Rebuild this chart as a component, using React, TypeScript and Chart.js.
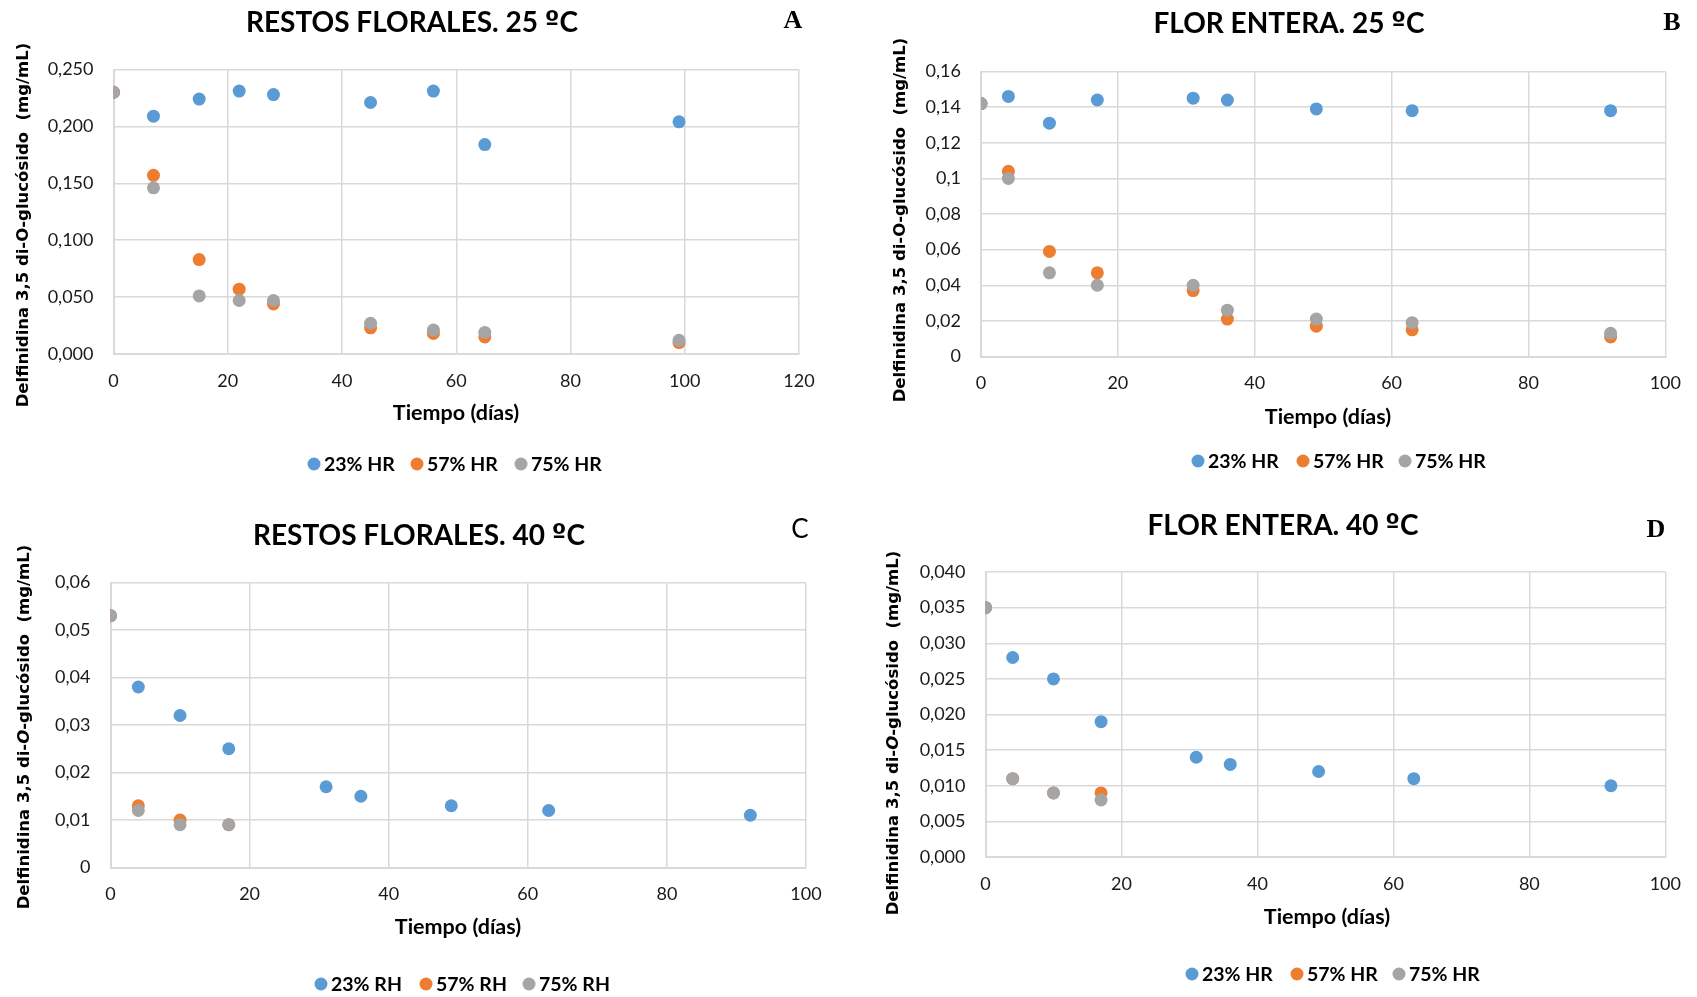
import React, { useEffect, useRef } from "react";
import { Chart, registerables } from "chart.js";

Chart.register(...registerables);

// ---------- DATA ----------
const seriesColors = ["#5B9BD5", "#ED7D31", "#A5A5A5"];
const legendHR = ["23% HR", "57% HR", "75% HR"];
const legendRH = ["23% RH", "57% RH", "75% RH"];

// A: Restos florales 25 ºC
const daysA = [0, 7, 15, 22, 28, 45, 56, 65, 99];
const a23 = [0.23, 0.209, 0.224, 0.231, 0.228, 0.221, 0.231, 0.184, 0.204];
const a57 = [0.23, 0.157, 0.083, 0.057, 0.044, 0.023, 0.018, 0.015, 0.01];
const a75 = [0.23, 0.146, 0.051, 0.047, 0.047, 0.027, 0.021, 0.019, 0.012];
const xTicksA = [0, 20, 40, 60, 80, 100, 120];
const yTicksA = [0, 0.05, 0.1, 0.15, 0.2, 0.25];
const yLabelsA = ["0,000", "0,050", "0,100", "0,150", "0,200", "0,250"];

// B: Flor entera 25 ºC
const daysB = [0, 4, 10, 17, 31, 36, 49, 63, 92];
const b23 = [0.142, 0.146, 0.131, 0.144, 0.145, 0.144, 0.139, 0.138, 0.138];
const b57 = [0.142, 0.104, 0.059, 0.047, 0.037, 0.021, 0.017, 0.015, 0.011];
const b75 = [0.142, 0.1, 0.047, 0.04, 0.04, 0.026, 0.021, 0.019, 0.013];
const xTicksB = [0, 20, 40, 60, 80, 100];
const yTicksB = [0, 0.02, 0.04, 0.06, 0.08, 0.1, 0.12, 0.14, 0.16];
const yLabelsB = ["0", "0,02", "0,04", "0,06", "0,08", "0,1", "0,12", "0,14", "0,16"];

// C: Restos florales 40 ºC
const daysC = [0, 4, 10, 17, 31, 36, 49, 63, 92];
const daysCShort = [0, 4, 10, 17];
const c23 = [0.053, 0.038, 0.032, 0.025, 0.017, 0.015, 0.013, 0.012, 0.011];
const c57 = [0.053, 0.013, 0.01, 0.009];
const c75 = [0.053, 0.012, 0.009, 0.009];
const xTicksC = [0, 20, 40, 60, 80, 100];
const yTicksC = [0, 0.01, 0.02, 0.03, 0.04, 0.05, 0.06];
const yLabelsC = ["0", "0,01", "0,02", "0,03", "0,04", "0,05", "0,06"];

// D: Flor entera 40 ºC
const daysD = [0, 4, 10, 17, 31, 36, 49, 63, 92];
const daysDShort = [0, 4, 10, 17];
const d23 = [0.035, 0.028, 0.025, 0.019, 0.014, 0.013, 0.012, 0.011, 0.01];
const d57 = [0.035, 0.011, 0.009, 0.009];
const d75 = [0.035, 0.011, 0.009, 0.008];
const xTicksD = [0, 20, 40, 60, 80, 100];
const yTicksD = [0, 0.005, 0.01, 0.015, 0.02, 0.025, 0.03, 0.035, 0.04];
const yLabelsD = ["0,000", "0,005", "0,010", "0,015", "0,020", "0,025", "0,030", "0,035", "0,040"];

// ---------- LAYOUT / STYLE ----------
const SANS = "Lato, 'Open Sans', sans-serif";
const GRID = "#D9D9D9";

type Panel = {
  id: string;
  box: { left: number; top: number; width: number; height: number };
  plot: { left: number; top: number; right: number; bottom: number };
  series: { x: number[]; y: number[] }[];
  xTicks: number[];
  yTicks: number[];
  yLabels: string[];
  title: string;
  titlePos: [number, number];
  letter: string;
  letterFont: string;
  letterPos: [number, number];
  yTitlePos: [number, number];
  italicO: boolean;
  xTitlePos: [number, number];
  legend: string[];
  legendY: number;
  legendXs: number[];
};

const serifLetter = "bold 26px 'Liberation Serif', 'DejaVu Serif', serif";

const panels: Panel[] = [
  {
    id: "A",
    box: { left: 0, top: 0, width: 848, height: 498 },
    plot: { left: 113.5, top: 69.5, right: 799, bottom: 354 },
    series: [
      { x: daysA, y: a23 },
      { x: daysA, y: a57 },
      { x: daysA, y: a75 },
    ],
    xTicks: xTicksA,
    yTicks: yTicksA,
    yLabels: yLabelsA,
    title: "RESTOS FLORALES. 25 ºC",
    titlePos: [412, 23],
    letter: "A",
    letterFont: serifLetter,
    letterPos: [793, 21],
    yTitlePos: [24, 225],
    italicO: false,
    xTitlePos: [456, 413],
    legend: legendHR,
    legendY: 464,
    legendXs: [314, 417, 521],
  },
  {
    id: "B",
    box: { left: 848, top: 0, width: 849, height: 498 },
    plot: { left: 981, top: 71.5, right: 1675.5, bottom: 356.5 },
    series: [
      { x: daysB, y: b23 },
      { x: daysB, y: b57 },
      { x: daysB, y: b75 },
    ],
    xTicks: xTicksB,
    yTicks: yTicksB,
    yLabels: yLabelsB,
    title: "FLOR ENTERA. 25 ºC",
    titlePos: [1289, 24],
    letter: "B",
    letterFont: serifLetter,
    letterPos: [1672, 23],
    yTitlePos: [901, 220],
    italicO: false,
    xTitlePos: [1328, 417],
    legend: legendHR,
    legendY: 461,
    legendXs: [1198, 1303, 1405],
  },
  {
    id: "C",
    box: { left: 0, top: 498, width: 848, height: 499 },
    plot: { left: 110.5, top: 582.5, right: 806, bottom: 867.5 },
    series: [
      { x: daysC, y: c23 },
      { x: daysCShort, y: c57 },
      { x: daysCShort, y: c75 },
    ],
    xTicks: xTicksC,
    yTicks: yTicksC,
    yLabels: yLabelsC,
    title: "RESTOS FLORALES. 40 ºC",
    titlePos: [419, 536],
    letter: "C",
    letterFont: `26px ${SANS}`,
    letterPos: [800, 530],
    yTitlePos: [25, 727],
    italicO: true,
    xTitlePos: [458, 927],
    legend: legendRH,
    legendY: 984,
    legendXs: [321, 426, 529],
  },
  {
    id: "D",
    box: { left: 848, top: 498, width: 849, height: 499 },
    plot: { left: 985.5, top: 572, right: 1668.5, bottom: 857 },
    series: [
      { x: daysD, y: d23 },
      { x: daysDShort, y: d57 },
      { x: daysDShort, y: d75 },
    ],
    xTicks: xTicksD,
    yTicks: yTicksD,
    yLabels: yLabelsD,
    title: "FLOR ENTERA. 40 ºC",
    titlePos: [1283, 526],
    letter: "D",
    letterFont: serifLetter,
    letterPos: [1656, 530],
    yTitlePos: [894, 733],
    italicO: true,
    xTitlePos: [1327, 917],
    legend: legendHR,
    legendY: 974,
    legendXs: [1192, 1297, 1399],
  },
];

// draw text split so the ordinal sign uses a font with an underlined "º"
function drawTitle(ctx: CanvasRenderingContext2D, text: string, x: number, y: number) {
  const main = `bold 28px ${SANS}`;
  const ord = "bold 26px 'DejaVu Sans', 'Liberation Sans', sans-serif";
  const parts = text.split(/(º)/).filter((s) => s.length > 0);
  const fonts = parts.map((s) => (s === "º" ? ord : main));
  let total = 0;
  const ws = parts.map((s, i) => {
    ctx.font = fonts[i];
    const w = ctx.measureText(s).width;
    total += w;
    return w;
  });
  ctx.textAlign = "left";
  let cx = x - total / 2;
  parts.forEach((s, i) => {
    ctx.font = fonts[i];
    ctx.fillText(s, cx, y);
    cx += ws[i];
  });
  ctx.textAlign = "center";
}

function decorPlugin(p: Panel) {
  return {
    id: "decor" + p.id,
    afterDraw(chart: any) {
      const ctx: CanvasRenderingContext2D = chart.ctx;
      const ox = p.box.left;
      const oy = p.box.top;
      ctx.save();
      ctx.fillStyle = "#000";
      ctx.textBaseline = "middle";
      ctx.textAlign = "center";
      // title
      drawTitle(ctx, p.title, p.titlePos[0] - ox, p.titlePos[1] - oy);
      // letter
      ctx.font = p.letterFont;
      ctx.fillText(p.letter, p.letterPos[0] - ox, p.letterPos[1] - oy);
      // x title
      ctx.font = `bold 21.5px ${SANS}`;
      ctx.fillText("Tiempo (días)", p.xTitlePos[0] - ox, p.xTitlePos[1] - oy);
      // y title (rotated, with optional italic O)
      const fN = "bold 16.5px 'DejaVu Sans', sans-serif";
      const fI = "italic bold 16.5px 'DejaVu Sans', sans-serif";
      const segs = [
        { t: "Delfinidina 3,5 di-", f: fN },
        { t: "O", f: p.italicO ? fI : fN },
        { t: "-glucósido  (mg/mL)", f: fN },
      ];
      let total = 0;
      const widths = segs.map((s) => {
        ctx.font = s.f;
        const w = ctx.measureText(s.t).width;
        total += w;
        return w;
      });
      ctx.save();
      ctx.translate(p.yTitlePos[0] - ox, p.yTitlePos[1] - oy);
      ctx.rotate(-Math.PI / 2);
      ctx.textAlign = "left";
      let cx = -total / 2;
      segs.forEach((s, i) => {
        ctx.font = s.f;
        ctx.fillText(s.t, cx, 0);
        cx += widths[i];
      });
      ctx.restore();
      // legend
      ctx.textAlign = "left";
      ctx.font = `bold 19.5px ${SANS}`;
      p.legend.forEach((lab, i) => {
        const x = p.legendXs[i] - ox;
        const y = p.legendY - oy;
        ctx.fillStyle = seriesColors[i];
        ctx.beginPath();
        ctx.arc(x, y, 6.5, 0, Math.PI * 2);
        ctx.fill();
        ctx.fillStyle = "#000";
        ctx.fillText(lab, x + 10, y + 1);
      });
      ctx.restore();
    },
  };
}

function PanelChart({ p }: { p: Panel }) {
  const ref = useRef<HTMLCanvasElement | null>(null);
  useEffect(() => {
    if (!ref.current) return;
    const yAxisW = p.plot.left - p.box.left;
    const xAxisH = p.box.top + p.box.height - p.plot.bottom;
    const chart = new Chart(ref.current, {
      type: "scatter",
      data: {
        datasets: p.series.map((s, i) => ({
          label: p.legend[i],
          data: s.x.map((x, k) => ({ x, y: s.y[k] })),
          backgroundColor: seriesColors[i],
          borderColor: seriesColors[i],
          borderWidth: 0,
          pointRadius: 6.5,
          pointHoverRadius: 6.5,
          showLine: false,
          order: p.series.length - 1 - i, // later series drawn on top
        })),
      },
      options: {
        responsive: false,
        maintainAspectRatio: false,
        animation: false,
        events: [],
        layout: {
          padding: {
            left: 0,
            top: p.plot.top - p.box.top,
            right: p.box.left + p.box.width - p.plot.right,
            bottom: 0,
          },
        },
        plugins: {
          legend: { display: false },
          title: { display: false },
          tooltip: { enabled: false },
        },
        scales: {
          x: {
            type: "linear",
            min: p.xTicks[0],
            max: p.xTicks[p.xTicks.length - 1],
            afterBuildTicks: (scale: any) => {
              scale.ticks = p.xTicks.map((v) => ({ value: v }));
            },
            afterFit: (scale: any) => {
              scale.height = xAxisH;
            },
            grid: { color: GRID, lineWidth: 1.5, drawTicks: false },
            border: { display: true, color: GRID, width: 2 },
            ticks: {
              padding: 16,
              color: "#1a1a1a",
              font: { family: SANS, size: 18 },
              maxRotation: 0,
              callback: (v: any) => String(v),
            },
          },
          y: {
            type: "linear",
            min: p.yTicks[0],
            max: p.yTicks[p.yTicks.length - 1],
            afterBuildTicks: (scale: any) => {
              scale.ticks = p.yTicks.map((v) => ({ value: v }));
            },
            afterFit: (scale: any) => {
              scale.width = yAxisW;
            },
            grid: { color: GRID, lineWidth: 1.5, drawTicks: false },
            border: { display: true, color: GRID, width: 2 },
            ticks: {
              padding: 20,
              color: "#1a1a1a",
              font: { family: SANS, size: 18 },
              callback: (_v: any, idx: number) => p.yLabels[idx],
            },
          },
        },
      },
      plugins: [decorPlugin(p)],
    } as any);
    return () => chart.destroy();
  }, [p]);
  return (
    <canvas
      ref={ref}
      width={p.box.width}
      height={p.box.height}
      style={{
        position: "absolute",
        left: p.box.left,
        top: p.box.top,
        width: p.box.width,
        height: p.box.height,
      }}
    />
  );
}

export default function App() {
  return (
    <div
      style={{
        position: "fixed",
        left: 0,
        top: 0,
        width: 1697,
        height: 997,
        background: "#fff",
        overflow: "hidden",
      }}
    >
      {panels.map((p) => (
        <PanelChart key={p.id} p={p} />
      ))}
    </div>
  );
}
